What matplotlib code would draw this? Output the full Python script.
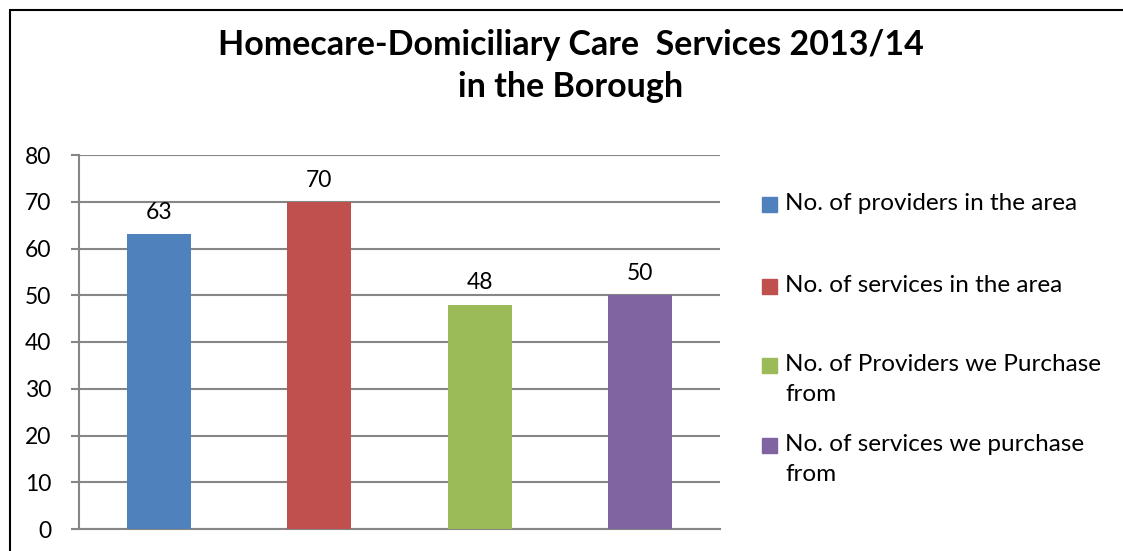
import matplotlib
matplotlib.use("Agg")
import matplotlib.pyplot as plt
import matplotlib.patches as mpatches

# ── data ──────────────────────────────────────────────────────────────────────
labels = [
    "No. of providers in the area",
    "No. of services in the area",
    "No. of Providers we Purchase\nfrom",
    "No. of services we purchase\nfrom",
]
values = [63, 70, 48, 50]
colors = ["#4f81bd", "#c0504d", "#9bbb59", "#8064a2"]
yticks = [0, 10, 20, 30, 40, 50, 60, 70, 80]
title = "Homecare-Domiciliary Care  Services 2013/14\nin the Borough"

plt.rcParams["font.family"] = ["Lato", "DejaVu Sans"]

W, H = 1123, 551
fig = plt.figure(figsize=(W / 100, H / 100), dpi=100)

# chart frame (cropped on right/bottom like the source)
fig.add_artist(mpatches.Rectangle((10 / W, -0.1), 1.2, 1 - 10 / H + 0.1,
                                  transform=fig.transFigure, fill=False,
                                  edgecolor="black", lw=1.5))

ax = fig.add_axes([79 / W, 1 - 529 / H, (720 - 79) / W, (529 - 155) / H])

x = list(range(len(values)))
ax.bar(x, values, width=0.4, color=colors, zorder=3)
for xi, v in zip(x, values):
    ax.annotate(str(v), (xi, v), xytext=(0, 8), textcoords="offset points",
                ha="center", va="bottom", fontsize=16.5)

ax.set_xlim(-0.5, len(values) - 0.5)
ax.set_ylim(0, 80)
ax.set_yticks(yticks)
ax.set_xticks([])
ax.tick_params(axis="y", length=6, width=1.5, color="#868686",
               labelsize=16.5, pad=14)
ax.grid(axis="y", color="#868686", lw=1.5, zorder=0)
for s in ["top", "right"]:
    ax.spines[s].set_visible(False)
for s in ["left", "bottom"]:
    ax.spines[s].set_color("#868686")
    ax.spines[s].set_linewidth(1.5)

fig.text(571 / W, 1 - 66 / H, title, ha="center", va="center",
         fontsize=24.5, fontweight="bold", linespacing=1.42)

# legend drawn by hand so the swatch aligns with the first text line
leg_y = [205, 287, 366, 446]
for lab, c, yy in zip(labels, colors, leg_y):
    fig.add_artist(mpatches.Rectangle((762 / W, 1 - (yy + 7) / H), 15 / W, 15 / H,
                                      transform=fig.transFigure, color=c))
    fig.text(785 / W, 1 - (yy - 12) / H, lab, ha="left", va="top",
             fontsize=17.5, linespacing=1.55)

fig.savefig("out.png", dpi=100)
